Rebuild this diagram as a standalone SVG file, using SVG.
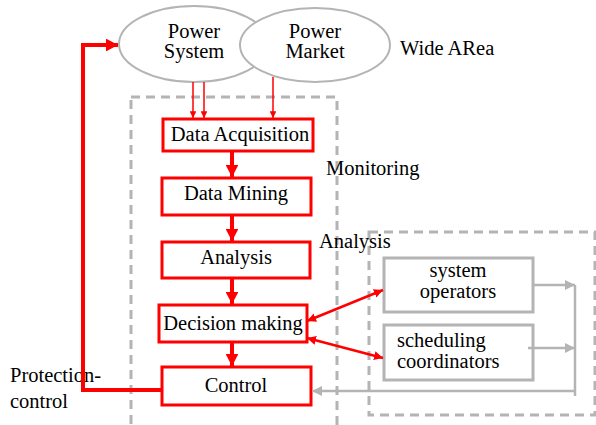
<svg xmlns="http://www.w3.org/2000/svg" width="596" height="425" viewBox="0 0 596 425">
<style>
text{font-size:20.5px;fill:#000}
.c{text-anchor:middle}
.rb{fill:#fff;stroke:#ff0000;stroke-width:3}
.gb{fill:#fff;stroke:#b4b4b4;stroke-width:3}
.el{fill:#fff;stroke:#b4b4b4;stroke-width:2}
.dash{fill:none;stroke:#b4b4b4;stroke-width:3;stroke-dasharray:9,6}
.thick{fill:none;stroke:#ff0000;stroke-width:4}
.thin{fill:none;stroke:#ff0000;stroke-width:1.5}
.med{fill:none;stroke:#ff0000;stroke-width:2.5}
.gl{fill:none;stroke:#b4b4b4;stroke-width:2.5}
</style>
<defs>
<marker id="ab" markerWidth="3" markerHeight="3.2" refX="3" refY="1.6" orient="auto" markerUnits="strokeWidth"><path d="M0,0L3,1.6L0,3.2z" fill="#ff0000"/></marker>
<marker id="as" markerWidth="4.5" markerHeight="4.5" refX="4.5" refY="2.25" orient="auto" markerUnits="strokeWidth"><path d="M0,0L4.5,2.25L0,4.5z" fill="#ff0000"/></marker>
<marker id="am" markerWidth="3.6" markerHeight="3.6" refX="3.6" refY="1.8" orient="auto-start-reverse" markerUnits="strokeWidth"><path d="M0,0L3.6,1.8L0,3.6z" fill="#ff0000"/></marker>
<marker id="ag" markerWidth="4" markerHeight="4" refX="4" refY="2" orient="auto" markerUnits="strokeWidth"><path d="M0,0L4,2L0,4z" fill="#b4b4b4"/></marker>
</defs>
<rect class="dash" x="131" y="97" width="206" height="340"/>
<rect class="dash" x="369" y="232" width="226" height="183"/>
<g font-family="'Liberation Serif', 'Times New Roman', 'DejaVu Serif', serif">
<g id="power-system"><ellipse class="el" cx="194" cy="44" rx="75" ry="38"/><text class="c" x="194" y="38">Power</text><text class="c" x="194" y="58">System</text></g>
<g id="power-market"><ellipse class="el" cx="315" cy="45" rx="75" ry="37"/><text class="c" x="315" y="38">Power</text><text class="c" x="315" y="58">Market</text></g>
<g id="wide-area"><text x="400" y="55">Wide ARea</text></g>
<g id="monitoring"><text x="326" y="175">Monitoring</text></g>
<g id="analysis-label"><text x="319" y="248">Analysis</text></g>
<g id="protection-control"><text x="10" y="382">Protection-</text><text x="10" y="408">control</text></g>
<g id="data-acquisition"><rect class="rb" x="163" y="119" width="150" height="32"/><text class="c" x="240" y="141">Data Acquisition</text></g>
<g id="data-mining"><rect class="rb" x="162" y="178" width="149" height="37"/><text class="c" x="236" y="200">Data Mining</text></g>
<g id="analysis"><rect class="rb" x="162" y="242" width="148" height="36"/><text class="c" x="236" y="264">Analysis</text></g>
<g id="decision-making"><rect class="rb" x="159" y="305" width="148" height="37"/><text class="c" x="233" y="330">Decision making</text></g>
<g id="control"><rect class="rb" x="162" y="367" width="149" height="38"/><text class="c" x="236" y="392">Control</text></g>
<g id="system-operators"><rect class="gb" x="384" y="258" width="149" height="54"/><text class="c" x="458" y="277">system</text><text class="c" x="458" y="298">operators</text></g>
<g id="scheduling-coordinators"><rect class="gb" x="384" y="325" width="149" height="55"/><text x="397" y="347">scheduling</text><text x="397" y="368">coordinators</text></g>
</g>
<g id="connectors">
<line class="thin" x1="193" y1="82" x2="193" y2="118" marker-end="url(#as)"/>
<line class="thin" x1="204" y1="82" x2="204" y2="118" marker-end="url(#as)"/>
<line class="thin" x1="273" y1="77" x2="273" y2="118" marker-end="url(#as)"/>
<line class="thick" x1="232" y1="152" x2="232" y2="177" marker-end="url(#ab)"/>
<line class="thick" x1="232" y1="216" x2="232" y2="241" marker-end="url(#ab)"/>
<line class="thick" x1="232" y1="279" x2="232" y2="304" marker-end="url(#ab)"/>
<line class="thick" x1="232" y1="343" x2="232" y2="366" marker-end="url(#ab)"/>
<polyline class="thick" points="162,390 83,390 83,45 118,45" marker-end="url(#ab)"/>
<line class="med" x1="307" y1="321" x2="383" y2="290" marker-start="url(#am)" marker-end="url(#am)"/>
<line class="med" x1="307" y1="338" x2="383" y2="358" marker-start="url(#am)" marker-end="url(#am)"/>
<line class="gl" x1="533" y1="285" x2="575" y2="285" marker-end="url(#ag)"/>
<line class="gl" x1="528" y1="348" x2="575" y2="348" marker-end="url(#ag)"/>
<line class="gl" x1="575" y1="285" x2="575" y2="396"/>
<line class="gl" x1="575" y1="391" x2="312" y2="391" marker-end="url(#ag)"/>
</g>
</svg>
